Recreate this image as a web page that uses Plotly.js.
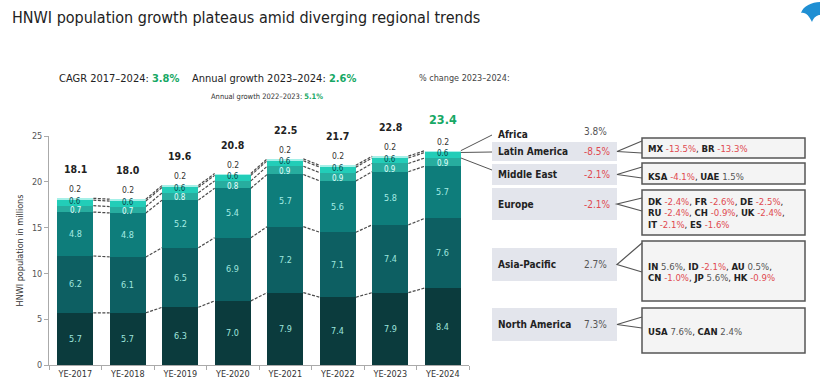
<!DOCTYPE html>
<html><head><meta charset="utf-8">
<script src="https://cdn.plot.ly/plotly-3.0.1.min.js"></script>
<style>html,body{margin:0;padding:0;background:#fff;}#chart{width:820px;height:384px;}</style>
</head><body><div id="chart"></div>
<script>
// ---------- data ----------
const years = ['YE-2017','YE-2018','YE-2019','YE-2020','YE-2021','YE-2022','YE-2023','YE-2024'];
const northAmerica = [5.7,5.7,6.3,7.0,7.9,7.4,7.9,8.4];
const asiaPacific  = [6.2,6.1,6.5,6.9,7.2,7.1,7.4,7.6];
const europe       = [4.8,4.8,5.2,5.4,5.7,5.6,5.8,5.7];
const middleEast   = [0.7,0.7,0.8,0.8,0.9,0.9,0.9,0.9];
const latinAmerica = [0.6,0.6,0.6,0.6,0.6,0.6,0.6,0.6];
const africa       = [0.2,0.2,0.2,0.2,0.2,0.2,0.2,0.2];
const totals       = [18.1,18.0,19.6,20.8,22.5,21.7,22.8,23.4];

const cagr = 3.8, growth2324 = 2.6, growth2223 = 5.1;
const regionNames  = ['Africa','Latin America','Middle East','Europe','Asia-Pacific','North America'];
const regionChange = [3.8,-8.5,-2.1,-2.1,2.7,7.3];
const countryCodes = [[],['MX','BR'],['KSA','UAE'],['DK','FR','DE','RU','CH','UK','IT','ES'],['IN','ID','AU','CN','JP','HK'],['USA','CAN']];
const countryChange = [[],[-13.5,-13.3],[-4.1,1.5],[-2.4,-2.6,-2.5,-2.4,-0.9,-2.4,-2.1,-1.6],[5.6,-2.1,0.5,-1.0,5.6,-0.9],[7.6,2.4]];

// ---------- style / layout constants ----------
const FONT = '"DejaVu Sans Condensed","DejaVu Sans",sans-serif';
const segColors = ['#0b3b3d','#0d5f62','#0e7d7b','#27ad9f','#22cdb8','#a6f0e8'];
const segLabelColors = ['#9fe6de','#9fe6de','#a6ece4','#e8fffc','#0b4a4d','#333333'];
const RED = '#e04a50', GREY = '#555555', GREEN = '#17a865';
const HW = 0.345; // half bar width
const L=49, R=469, T=136, B=365;
const xp = px => (px-L)/(R-L);
const yp = py => (B-py)/(B-T);
const YMAX = 25;

const series = [northAmerica, asiaPacific, europe, middleEast, latinAmerica, africa];
const names = ['North America','Asia-Pacific','Europe','Middle East','Latin America','Africa'];
const xs = years.map((_,i)=>i);

const traces = [];
series.forEach((s,k)=>{
  traces.push({type:'bar', x:xs, y:s, name:names[k], width:HW*2,
    marker:{color:segColors[k], line:{width:0}}, hoverinfo:'y+name', showlegend:false});
});

// cumulative boundaries
const cums = [];
let run = years.map(()=>0);
series.forEach(s=>{ run = run.map((v,i)=>+(v+s[i]).toFixed(2)); cums.push(run.slice()); });

// dashed connectors between adjacent bars
cums.forEach(c=>{
  const cx=[], cy=[];
  for(let i=0;i<xs.length-1;i++){ cx.push(i+HW, i+1-HW, null); cy.push(c[i], c[i+1], null); }
  traces.push({type:'scatter', mode:'lines', x:cx, y:cy, hoverinfo:'skip', showlegend:false,
    line:{color:'#4a4a4a', width:1.2, dash:'3px,1.5px'}});
});

const ann = [];
const P = (px,py,text,size,color,xanchor) => ({xref:'paper', yref:'paper', x:xp(px), y:yp(py),
  xanchor:xanchor||'left', yanchor:'middle', showarrow:false, text:text, font:{size:size, color:color, family:FONT}});

// segment labels
series.forEach((s,k)=>{
  s.forEach((v,i)=>{
    const base = k===0?0:cums[k-1][i];
    if(k===5){
      ann.push({x:i, y:cums[k][i], xref:'x', yref:'y', text:v.toFixed(1), showarrow:false, yanchor:'middle',
        yshift:9, font:{size:8.5, color:segLabelColors[k], family:FONT}});
    } else {
      const small = k>=3;
      ann.push({x:i, y:base+v/2, xref:'x', yref:'y', text:v.toFixed(1), showarrow:false, yanchor:'middle',
        yshift: k===4?1.5:(k===3?-1.5:0),
        font:{size: small?8:9, color:segLabelColors[k], family:FONT}});
    }
  });
});
// totals
totals.forEach((t,i)=>{
  const last = i===totals.length-1;
  ann.push({x:i, y:cums[5][i], xref:'x', yref:'y', text:'<b>'+t.toFixed(1)+'</b>', showarrow:false, yanchor:'middle',
    yshift: last?31:29, font:{size:last?12.5:10.5, color:last?GREEN:'#222', family:FONT}});
});

// title & headers
ann.push(P(10,17,'HNWI population growth plateaus amid diverging regional trends',16,'#222'));
ann.push(P(57,78,'CAGR 2017–2024: <b><span style="color:'+GREEN+'">'+cagr.toFixed(1)+'%</span></b>',11,'#222'));
ann.push(P(190,78,'Annual growth 2023–2024: <b><span style="color:'+GREEN+'">'+growth2324.toFixed(1)+'%</span></b>',11,'#222'));
ann.push(P(267,97,'Annual growth 2022–2023: <b><span style="color:'+GREEN+'">'+growth2223.toFixed(1)+'%</span></b>',7.5,'#333','center'));
ann.push(P(417,78,'% change 2023–2024:',9,'#444'));

// right panel geometry (pixels)
const labelY   = [134,151.5,174.5,204,264.5,324.5];
const labelBox = [null,[142,161],[164,185],[188,220],[248,281],[308,341]];
const detBox   = [null,[138,158],[163,184],[190,235],[241,301],[308,353]];
const wedge    = [null,[141,153],[167,178],[198,211],[243,272],[317,328]];
const perLine  = [0,2,2,3,3,2];
const detTop   = [0,148,176,201,266,331];

const shapes = [];
for(let r=0;r<6;r++){
  if(labelBox[r]) shapes.push({type:'rect', xref:'paper', yref:'paper', x0:xp(492), x1:xp(617),
    y0:yp(labelBox[r][0]), y1:yp(labelBox[r][1]), fillcolor:'#e3e5ec', line:{width:0}, layer:'below'});
  ann.push(P(496,labelY[r],'<b>'+regionNames[r]+'</b>',10,'#222'));
  const ch = regionChange[r];
  ann.push(P(582,labelY[r]-(r===0?3:0),ch.toFixed(1)+'%',10,ch<0?RED:GREY));
  if(detBox[r]){
    shapes.push({type:'rect', xref:'paper', yref:'paper', x0:xp(642), x1:xp(805),
      y0:yp(detBox[r][0]), y1:yp(detBox[r][1]), fillcolor:'#f4f4f4', line:{color:'#555', width:1.5}});
    shapes.push({type:'path', xref:'paper', yref:'paper',
      path:'M'+xp(642)+','+yp(wedge[r][0])+' L'+xp(617)+','+yp(labelY[r])+' L'+xp(642)+','+yp(wedge[r][1]),
      line:{color:'#555', width:1.2}});
    const items = countryCodes[r].map((c,j)=>{
      const v = countryChange[r][j];
      return '<b>'+c+'</b> <span style="color:'+(v<0?RED:GREY)+'">'+v.toFixed(1)+'%</span>';
    });
    for(let li=0; li*perLine[r] < items.length; li++){
      const part = items.slice(li*perLine[r], (li+1)*perLine[r]);
      const isLast = (li+1)*perLine[r] >= items.length;
      ann.push(P(646,detTop[r]+li*11.6, part.join(', ')+(isLast?'':','),9.5,'#222'));
    }
  }
}
// lines from 2024 bar to region labels
const last = xs.length-1;
[[5,135],[4,152],[3,170]].forEach(([k,py])=>{
  shapes.push({type:'line', xref:'paper', yref:'paper', x0:(last+HW+0.5)/8, y0:cums[k][last]/YMAX,
    x1:xp(492), y1:yp(py), line:{color:'#555', width:1}});
});
// logo
shapes.push({type:'path', xref:'paper', yref:'paper', fillcolor:'#1f8fd3', line:{width:0},
  path:'M'+xp(820)+','+yp(2)+' C'+xp(812)+','+yp(2)+' '+xp(803)+','+yp(6)+' '+xp(801)+','+yp(13)+
       ' C'+xp(806)+','+yp(12)+' '+xp(809)+','+yp(16)+' '+xp(812)+','+yp(22)+
       ' C'+xp(814)+','+yp(17)+' '+xp(817)+','+yp(15)+' '+xp(820)+','+yp(15)+' Z'});

const layout = {
  width:820, height:384, margin:{l:L, r:820-R, t:T, b:384-B, pad:0},
  paper_bgcolor:'#fff', plot_bgcolor:'#fff', barmode:'stack', showlegend:false,
  font:{family:FONT, color:'#333'},
  xaxis:{range:[-0.5,7.5], tickvals:xs, ticktext:years, ticks:'', showgrid:false, zeroline:false,
    showline:true, linecolor:'#aaa', linewidth:1, tickfont:{size:9, color:'#333', family:FONT},
    minor:{tick0:0.5, dtick:1, ticks:'outside', ticklen:4, tickcolor:'#aaa', showgrid:false}},
  yaxis:{range:[0,YMAX], dtick:5, ticks:'outside', ticklen:4, tickcolor:'#aaa', showgrid:false, zeroline:false,
    showline:true, linecolor:'#aaa', linewidth:1, tickfont:{size:9, color:'#555', family:FONT},
    title:{text:'HNWI population in millions', font:{size:9, color:'#333', family:FONT}, standoff:6}},
  annotations:ann, shapes:shapes
};
Plotly.newPlot('chart', traces, layout, {displayModeBar:false, staticPlot:true});
</script></body></html>
